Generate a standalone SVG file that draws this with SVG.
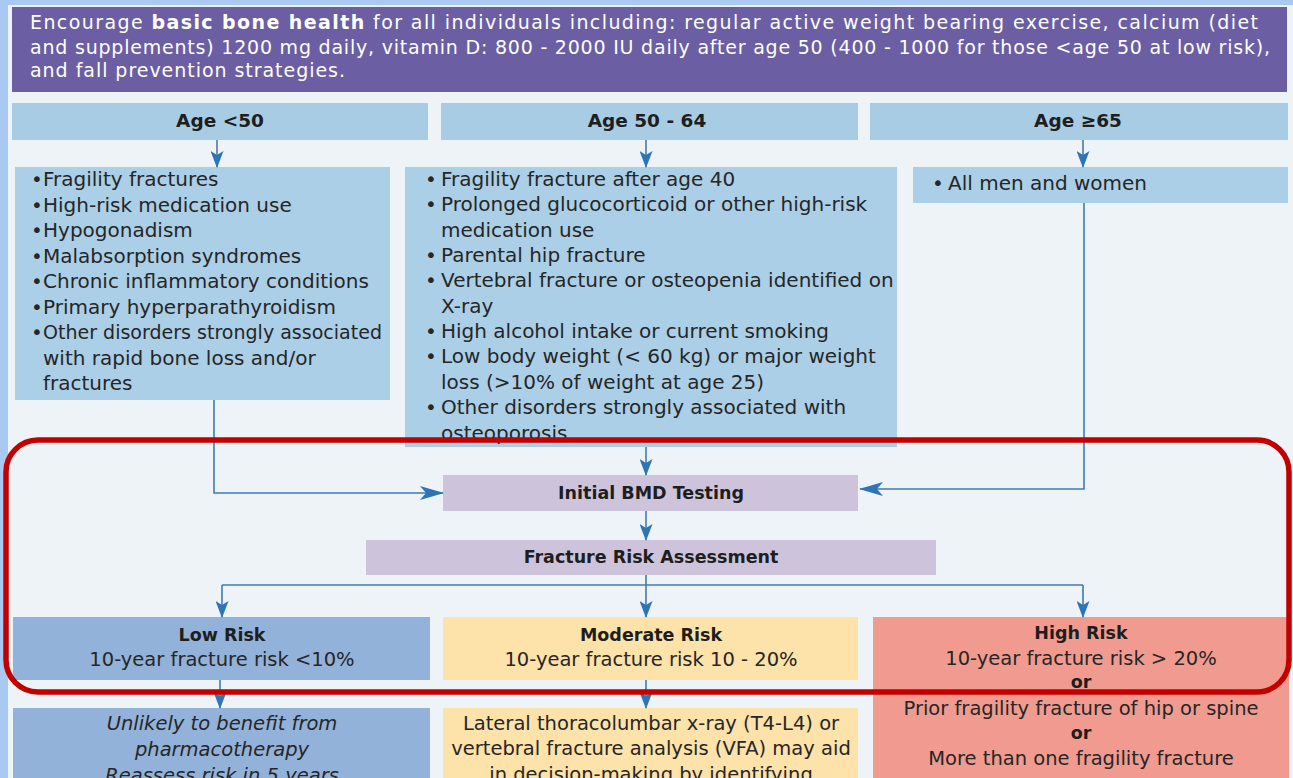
<svg xmlns="http://www.w3.org/2000/svg" width="1293" height="778" viewBox="0 0 1293 778">
  <style>
    .t { font-family: "DejaVu Sans", "Liberation Sans", sans-serif; font-size: 19.5px; fill: #262626; }
    .l { font-size: 20px; }
    .b { font-family: "DejaVu Sans", "Liberation Sans", sans-serif; font-size: 17.5px; font-weight: bold; fill: #1e1e1e; }
    .h { font-size: 18.5px; }
    .w { font-family: "DejaVu Sans", "Liberation Sans", sans-serif; font-size: 19px; fill: #ffffff; }
    .it { font-style: italic; }
    .c { text-anchor: middle; }
    .hdr { fill: #a7cce4; }
    .lst { fill: #abcfe7; }
    .lav { fill: #cdc4dc; }
    .low { fill: #92b2da; }
    .mod { fill: #fde2a9; }
    .high { fill: #f19b90; }
    .conn { fill: none; stroke: #3c7cb8; stroke-width: 1.6; }
  </style>
  <defs>
    <marker id="arr" markerUnits="userSpaceOnUse" markerWidth="17" markerHeight="13" refX="16" refY="6.5" orient="auto">
      <path d="M0,0 L17,6.5 L0,13 L4,6.5 z" fill="#2f74b5"/>
    </marker>
    <marker id="arrL" markerUnits="userSpaceOnUse" markerWidth="24" markerHeight="14" refX="23" refY="7" orient="auto">
      <path d="M0,0 L24,7 L0,14 L6,7 z" fill="#2f74b5"/>
    </marker>
  </defs>

  <!-- page frame -->
  <rect x="0" y="0" width="1293" height="778" fill="#a9c9f2"/>
  <rect x="8" y="5" width="1285" height="773" fill="#edf3f7"/>

  <!-- intro banner -->
  <g id="intro">
    <rect x="12" y="7" width="1275" height="85" fill="#6b5ea2"/>
    <text class="w" x="30" y="29" textLength="1228" lengthAdjust="spacing">Encourage <tspan font-weight="bold">basic bone health</tspan> for all individuals including: regular active weight bearing exercise, calcium (diet</text>
    <text class="w" x="30" y="54" textLength="1240" lengthAdjust="spacing">and supplements) 1200 mg daily, vitamin D: 800 - 2000 IU daily after age 50 (400 - 1000 for those &lt;age 50 at low risk),</text>
    <text class="w" x="30" y="77" textLength="315" lengthAdjust="spacing">and fall prevention strategies.</text>
  </g>

  <!-- age group headers -->
  <g id="age-under-50">
    <rect class="hdr" x="12" y="103" width="416" height="37"/>
    <text class="b h c" x="220" y="127">Age &lt;50</text>
  </g>
  <g id="age-50-64">
    <rect class="hdr" x="441" y="103" width="417" height="37"/>
    <text class="b h c" x="647" y="127">Age 50 - 64</text>
  </g>
  <g id="age-65-plus">
    <rect class="hdr" x="870" y="103" width="418" height="37"/>
    <text class="b h c" x="1078" y="127">Age ≥65</text>
  </g>

  <!-- risk factor lists -->
  <g id="risk-under-50">
    <rect class="lst" x="15" y="167" width="375" height="233"/>
    <text class="t l">
      <tspan x="31" y="186">•</tspan><tspan x="43" y="186">Fragility fractures</tspan>
      <tspan x="31" y="211.5">•</tspan><tspan x="43" y="211.5">High-risk medication use</tspan>
      <tspan x="31" y="237">•</tspan><tspan x="43" y="237">Hypogonadism</tspan>
      <tspan x="31" y="262.5">•</tspan><tspan x="43" y="262.5">Malabsorption syndromes</tspan>
      <tspan x="31" y="288">•</tspan><tspan x="43" y="288">Chronic inflammatory conditions</tspan>
      <tspan x="31" y="313.5">•</tspan><tspan x="43" y="313.5">Primary hyperparathyroidism</tspan>
      <tspan x="31" y="339">•</tspan><tspan x="43" y="339" textLength="339" lengthAdjust="spacingAndGlyphs">Other disorders strongly associated</tspan>
      <tspan x="43" y="364.5">with rapid bone loss and/or</tspan>
      <tspan x="43" y="390">fractures</tspan>
    </text>
  </g>
  <g id="risk-50-64">
    <rect class="lst" x="405" y="167" width="492" height="280"/>
    <text class="t l">
      <tspan x="425" y="186">•</tspan><tspan x="441" y="186">Fragility fracture after age 40</tspan>
      <tspan x="425" y="211">•</tspan><tspan x="441" y="211">Prolonged glucocorticoid or other high-risk</tspan>
      <tspan x="441" y="237">medication use</tspan>
      <tspan x="425" y="262">•</tspan><tspan x="441" y="262">Parental hip fracture</tspan>
      <tspan x="425" y="287">•</tspan><tspan x="441" y="287">Vertebral fracture or osteopenia identified on</tspan>
      <tspan x="441" y="313">X-ray</tspan>
      <tspan x="425" y="338">•</tspan><tspan x="441" y="338">High alcohol intake or current smoking</tspan>
      <tspan x="425" y="363">•</tspan><tspan x="441" y="363">Low body weight (&lt; 60 kg) or major weight</tspan>
      <tspan x="441" y="389">loss (&gt;10% of weight at age 25)</tspan>
      <tspan x="425" y="414">•</tspan><tspan x="441" y="414">Other disorders strongly associated with</tspan>
      <tspan x="441" y="440">osteoporosis</tspan>
    </text>
  </g>
  <g id="risk-65-plus">
    <rect class="lst" x="913" y="167" width="375" height="36"/>
    <text class="t l"><tspan x="932" y="190">•</tspan><tspan x="948" y="190">All men and women</tspan></text>
  </g>

  <!-- testing and assessment -->
  <g id="bmd-testing">
    <rect class="lav" x="443" y="475" width="415" height="36"/>
    <text class="b c" x="651" y="499">Initial BMD Testing</text>
  </g>
  <g id="risk-assessment">
    <rect class="lav" x="366" y="540" width="570" height="35"/>
    <text class="b c" x="651" y="563">Fracture Risk Assessment</text>
  </g>

  <!-- risk categories -->
  <g id="low-risk">
    <rect class="low" x="13" y="617" width="417" height="63"/>
    <text class="b c" x="222" y="641">Low Risk</text>
    <text class="t c" x="222" y="666">10-year fracture risk &lt;10%</text>
  </g>
  <g id="moderate-risk">
    <rect class="mod" x="443" y="617" width="415" height="63"/>
    <text class="b c" x="651" y="641">Moderate Risk</text>
    <text class="t c" x="651" y="666">10-year fracture risk 10 - 20%</text>
  </g>
  <g id="high-risk">
    <rect class="high" x="873" y="617" width="416" height="161"/>
    <text class="b c" x="1081" y="639">High Risk</text>
    <text class="t c" x="1081" y="665">10-year fracture risk &gt; 20%</text>
    <text class="b c" x="1081" y="688">or</text>
    <text class="t c" x="1081" y="715">Prior fragility fracture of hip or spine</text>
    <text class="b c" x="1081" y="739">or</text>
    <text class="t c" x="1081" y="765">More than one fragility fracture</text>
  </g>

  <!-- follow-up guidance (boxes run past the bottom edge of the page) -->
  <g id="low-followup">
    <rect class="low" x="13" y="708" width="417" height="70"/>
    <text class="t c it" x="222" y="730">Unlikely to benefit from</text>
    <text class="t c it" x="222" y="756">pharmacotherapy</text>
    <text class="t c it" x="222" y="782">Reassess risk in 5 years</text>
  </g>
  <g id="moderate-followup">
    <rect class="mod" x="443" y="708" width="415" height="70"/>
    <text class="t c" x="651" y="730">Lateral thoracolumbar x-ray (T4-L4) or</text>
    <text class="t c" x="651" y="755">vertebral fracture analysis (VFA) may aid</text>
    <text class="t c" x="651" y="781">in decision-making by identifying</text>
  </g>

  <!-- connectors -->
  <g id="connectors">
    <path class="conn" d="M217,140 V167" marker-end="url(#arr)"/>
    <path class="conn" d="M646,140 V167" marker-end="url(#arr)"/>
    <path class="conn" d="M1083,140 V167" marker-end="url(#arr)"/>
    <path class="conn" d="M214,400 V493 H443" marker-end="url(#arrL)"/>
    <path class="conn" d="M646,447 V475" marker-end="url(#arr)"/>
    <path class="conn" d="M1084,203 V489 H860" marker-end="url(#arrL)"/>
    <path class="conn" d="M646,511 V540" marker-end="url(#arr)"/>
    <path class="conn" d="M646,575 V585"/>
    <path class="conn" d="M222,585 H1083"/>
    <path class="conn" d="M222,585 V617" marker-end="url(#arr)"/>
    <path class="conn" d="M646,585 V617" marker-end="url(#arr)"/>
    <path class="conn" d="M1083,585 V617" marker-end="url(#arr)"/>
    <path class="conn" d="M220,680 V708" marker-end="url(#arr)"/>
    <path class="conn" d="M646,680 V708" marker-end="url(#arr)"/>
  </g>

  <!-- highlight around the testing and risk stratification steps -->
  <rect id="highlight" x="6" y="440" width="1283" height="252" rx="32" ry="32" fill="none" stroke="#c20000" stroke-width="5.5"/>
</svg>
